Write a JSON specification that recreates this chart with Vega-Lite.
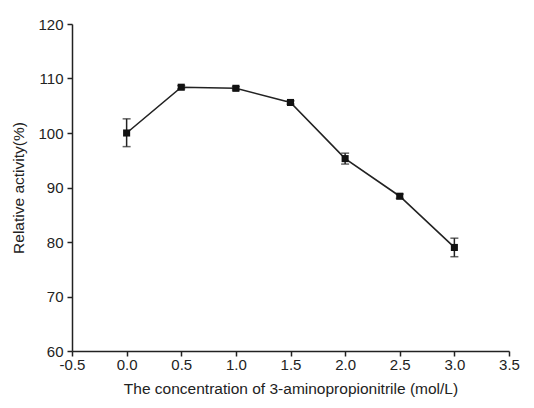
{
  "$schema": "https://vega.github.io/schema/vega-lite/v6.json",
  "width": 437,
  "height": 327,
  "autosize": {"type": "none"},
  "padding": {"left": 72, "top": 24, "right": 25, "bottom": 57},
  "background": "white",
  "config": {
    "view": {"stroke": null},
    "axis": {
      "grid": false,
      "domainColor": "#222",
      "domainWidth": 1.5,
      "tickColor": "#222",
      "tickWidth": 1.5,
      "tickSize": 5,
      "labelFont": "Liberation Sans",
      "labelFontSize": 15,
      "labelColor": "#222",
      "titleFont": "Liberation Sans",
      "titleFontSize": 15.5,
      "titleFontWeight": "normal",
      "titleColor": "#222"
    }
  },
  "data": {
    "values": [
      {"c": 0.0, "act": 100.0, "lo": 97.5, "hi": 102.6},
      {"c": 0.5, "act": 108.4, "lo": 108.1, "hi": 108.7},
      {"c": 1.0, "act": 108.2, "lo": 107.9, "hi": 108.5},
      {"c": 1.5, "act": 105.6, "lo": 105.3, "hi": 105.9},
      {"c": 2.0, "act": 95.3, "lo": 94.3, "hi": 96.3},
      {"c": 2.5, "act": 88.4, "lo": 88.0, "hi": 88.8},
      {"c": 3.0, "act": 79.0, "lo": 77.3, "hi": 80.7}
    ]
  },
  "encoding": {
    "x": {
      "field": "c",
      "type": "quantitative",
      "scale": {"domain": [-0.5, 3.5], "nice": false, "zero": false},
      "axis": {
        "values": [-0.5, 0, 0.5, 1, 1.5, 2, 2.5, 3, 3.5],
        "labelExpr": "replace(format(datum.value, '.1f'), '\u2212', '-')",
        "labelPadding": 1,
        "labelFlush": false,
        "title": "The concentration of 3-aminopropionitrile (mol/L)",
        "titlePadding": 9
      }
    }
  },
  "layer": [
    {
      "mark": {"type": "rule", "color": "#222", "strokeWidth": 1.5},
      "encoding": {
        "y": {"field": "lo", "type": "quantitative"},
        "y2": {"field": "hi"}
      }
    },
    {
      "mark": {"type": "tick", "orient": "horizontal", "color": "#222", "size": 8, "thickness": 1.5},
      "encoding": {"y": {"field": "lo", "type": "quantitative"}}
    },
    {
      "mark": {"type": "tick", "orient": "horizontal", "color": "#222", "size": 8, "thickness": 1.5},
      "encoding": {"y": {"field": "hi", "type": "quantitative"}}
    },
    {
      "mark": {"type": "line", "color": "#222", "strokeWidth": 1.6},
      "encoding": {
        "y": {
          "field": "act",
          "type": "quantitative",
          "scale": {"domain": [60, 120], "nice": false, "zero": false},
          "axis": {
            "values": [60, 70, 80, 90, 100, 110, 120],
            "labelPadding": 4,
            "labelFlush": false,
            "title": "Relative activity(%)",
            "titlePadding": 11
          }
        }
      }
    },
    {
      "mark": {"type": "point", "shape": "square", "filled": true, "color": "#111", "size": 50, "opacity": 1},
      "encoding": {"y": {"field": "act", "type": "quantitative"}}
    }
  ]
}
